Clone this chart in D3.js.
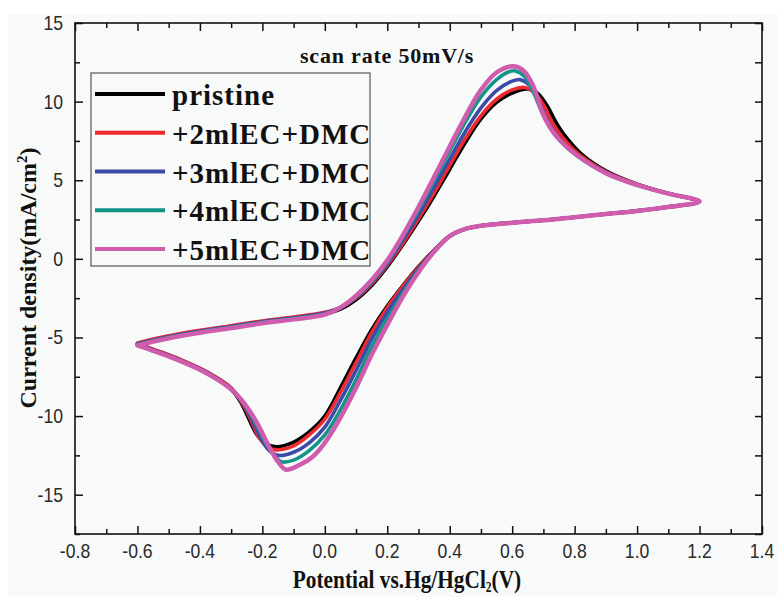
<!DOCTYPE html>
<html>
<head>
<meta charset="utf-8">
<script src="https://cdn.jsdelivr.net/npm/d3@7"></script>
<style>
body { margin: 0; background: #fff; }
svg { display: block; }
.tick-label { font-family: "Liberation Sans", Arial, sans-serif; font-size: 20px; fill: #2a2a2a; }
.serif-bold { font-family: "Liberation Serif", "Times New Roman", serif; font-weight: bold; fill: #111; }
</style>
</head>
<body>
<script>
// series names and colours
var names = ["pristine", "+2mlEC+DMC", "+3mlEC+DMC", "+4mlEC+DMC", "+5mlEC+DMC"]
var colors = ["#000000", "#ee2a2e", "#3c4aa8", "#149488", "#cf5cad"]

// CV loops: [potential (V), current density (mA/cm2)]
// forward scan -0.6 -> 1.2, then reverse 1.2 -> -0.6
var pristine = [[-0.6,-5.4],[-0.5,-5.0],[-0.4,-4.65],[-0.3,-4.35],[-0.2,-4.05],[-0.1,-3.8],[0.0,-3.5],[0.05,-3.2],[0.1,-2.6],[0.15,-1.7],[0.2,-0.5],[0.25,0.9],[0.3,2.4],[0.35,4.0],[0.4,5.7],[0.45,7.4],[0.5,8.9],[0.55,9.95],[0.6,10.55],[0.65,10.8],[0.68,10.55],[0.71,9.8],[0.74,8.7],[0.77,7.8],[0.82,6.7],[0.9,5.6],[1.0,4.75],[1.1,4.15],[1.2,3.65],
  [1.1,3.3],[1.0,3.05],[0.9,2.85],[0.8,2.65],[0.7,2.45],[0.6,2.3],[0.5,2.1],[0.45,1.9],[0.4,1.45],[0.35,0.55],[0.3,-0.5],[0.25,-1.7],[0.2,-3.0],[0.15,-4.5],[0.1,-6.3],[0.05,-8.2],[0.0,-10.0],[-0.05,-11.0],[-0.1,-11.65],[-0.155,-11.95],[-0.19,-11.75],[-0.22,-11.1],[-0.245,-10.1],[-0.27,-9.1],[-0.3,-8.3],[-0.35,-7.55],[-0.4,-7.0],[-0.45,-6.55],[-0.5,-6.15],[-0.6,-5.45]]
var ec2 = [[-0.6,-5.35],[-0.5,-4.9],[-0.4,-4.55],[-0.3,-4.25],[-0.2,-3.95],[-0.1,-3.7],[0.0,-3.4],[0.05,-3.1],[0.1,-2.5],[0.15,-1.6],[0.2,-0.4],[0.25,1.0],[0.3,2.55],[0.35,4.2],[0.4,5.95],[0.45,7.65],[0.5,9.1],[0.55,10.15],[0.6,10.75],[0.64,10.9],[0.67,10.6],[0.7,9.8],[0.73,8.6],[0.76,7.75],[0.81,6.7],[0.9,5.55],[1.0,4.75],[1.1,4.15],[1.2,3.65],
  [1.1,3.3],[1.0,3.05],[0.9,2.85],[0.8,2.65],[0.7,2.45],[0.6,2.3],[0.5,2.1],[0.45,1.9],[0.4,1.45],[0.35,0.55],[0.3,-0.55],[0.25,-1.75],[0.2,-3.1],[0.15,-4.7],[0.1,-6.6],[0.05,-8.5],[0.0,-10.2],[-0.05,-11.2],[-0.1,-11.9],[-0.155,-12.15],[-0.185,-11.95],[-0.215,-11.2],[-0.24,-10.1],[-0.27,-9.0],[-0.3,-8.2],[-0.35,-7.5],[-0.4,-6.95],[-0.45,-6.5],[-0.5,-6.1],[-0.6,-5.4]]
var ec3 = [[-0.6,-5.4],[-0.5,-4.95],[-0.4,-4.6],[-0.3,-4.3],[-0.2,-4.0],[-0.1,-3.75],[0.0,-3.45],[0.05,-3.1],[0.1,-2.45],[0.15,-1.5],[0.2,-0.3],[0.25,1.2],[0.3,2.8],[0.35,4.55],[0.4,6.35],[0.45,8.1],[0.5,9.6],[0.55,10.7],[0.6,11.3],[0.625,11.4],[0.655,11.05],[0.685,10.0],[0.715,8.7],[0.745,7.8],[0.8,6.7],[0.9,5.5],[1.0,4.72],[1.1,4.15],[1.2,3.65],
  [1.1,3.3],[1.0,3.05],[0.9,2.85],[0.8,2.65],[0.7,2.45],[0.6,2.3],[0.5,2.1],[0.45,1.9],[0.4,1.45],[0.35,0.5],[0.3,-0.65],[0.25,-1.95],[0.2,-3.4],[0.15,-5.1],[0.1,-7.1],[0.05,-9.0],[0.0,-10.7],[-0.05,-11.7],[-0.1,-12.3],[-0.15,-12.5],[-0.18,-12.15],[-0.21,-11.2],[-0.24,-9.95],[-0.27,-8.95],[-0.3,-8.25],[-0.35,-7.55],[-0.4,-7.0],[-0.45,-6.55],[-0.5,-6.15],[-0.6,-5.45]]
var ec4 = [[-0.6,-5.45],[-0.5,-5.0],[-0.4,-4.65],[-0.3,-4.35],[-0.2,-4.05],[-0.1,-3.8],[0.0,-3.5],[0.05,-3.1],[0.1,-2.4],[0.15,-1.45],[0.2,-0.2],[0.25,1.4],[0.3,3.1],[0.35,4.95],[0.4,6.85],[0.45,8.7],[0.5,10.3],[0.55,11.4],[0.59,11.9],[0.61,11.95],[0.64,11.6],[0.67,10.5],[0.7,9.1],[0.73,8.1],[0.78,7.0],[0.9,5.45],[1.0,4.7],[1.1,4.15],[1.2,3.65],
  [1.1,3.3],[1.0,3.05],[0.9,2.85],[0.8,2.65],[0.7,2.45],[0.6,2.3],[0.5,2.1],[0.45,1.9],[0.4,1.45],[0.35,0.5],[0.3,-0.75],[0.25,-2.2],[0.2,-3.8],[0.15,-5.6],[0.1,-7.7],[0.05,-9.6],[0.0,-11.2],[-0.05,-12.2],[-0.1,-12.8],[-0.14,-12.9],[-0.18,-12.0],[-0.21,-10.9],[-0.24,-9.8],[-0.27,-8.9],[-0.3,-8.3],[-0.35,-7.6],[-0.4,-7.05],[-0.45,-6.6],[-0.5,-6.2],[-0.6,-5.5]]
var ec5 = [[-0.6,-5.5],[-0.5,-5.05],[-0.4,-4.7],[-0.3,-4.4],[-0.2,-4.1],[-0.1,-3.85],[0.0,-3.55],[0.05,-3.1],[0.1,-2.35],[0.15,-1.35],[0.2,-0.1],[0.25,1.5],[0.3,3.3],[0.35,5.2],[0.4,7.15],[0.45,9.05],[0.5,10.75],[0.55,11.85],[0.6,12.25],[0.635,12.0],[0.665,11.1],[0.695,9.4],[0.72,8.4],[0.75,7.6],[0.8,6.7],[0.9,5.45],[1.0,4.7],[1.1,4.15],[1.2,3.65],
  [1.1,3.3],[1.0,3.05],[0.9,2.85],[0.8,2.65],[0.7,2.45],[0.6,2.3],[0.5,2.1],[0.45,1.9],[0.4,1.45],[0.35,0.45],[0.3,-0.85],[0.25,-2.4],[0.2,-4.2],[0.15,-6.1],[0.1,-8.2],[0.05,-10.1],[0.0,-11.7],[-0.04,-12.6],[-0.08,-13.1],[-0.125,-13.4],[-0.15,-12.9],[-0.18,-11.9],[-0.21,-10.7],[-0.24,-9.7],[-0.27,-8.9],[-0.3,-8.3],[-0.35,-7.6],[-0.4,-7.05],[-0.45,-6.6],[-0.5,-6.2],[-0.6,-5.5]]
var allSeries = [pristine, ec2, ec3, ec4, ec5]

// tick values
var xTicks = [-0.8, -0.6, -0.4, -0.2, 0.0, 0.2, 0.4, 0.6, 0.8, 1.0, 1.2, 1.4]
var yTicks = [-15, -10, -5, 0, 5, 10, 15]

var W = 777, H = 597
var pL = 75, pR = 762, pT = 23, pB = 534

var x = d3.scaleLinear().domain([-0.8, 1.4]).range([pL, pR])
var y = d3.scaleLinear().domain([-17.5, 15]).range([pB, pT])

var svg = d3.select("body").append("svg").attr("width", W).attr("height", H)
svg.append("rect").attr("width", W).attr("height", H).attr("fill", "#ffffff")
svg.append("rect").attr("x", 8).attr("y", 14).attr("width", W - 8).attr("height", H - 14).attr("fill", "#f8f9f9")

// curves
var line = d3.line().x(function(d) { return x(d[0]) }).y(function(d) { return y(d[1]) }).curve(d3.curveCatmullRom.alpha(0.5))
var plot = svg.append("g")
for(var i = 0; i < allSeries.length; i++)
{
    plot.append("path").attr("d", line(allSeries[i])).attr("fill", "none")
        .attr("stroke", colors[i]).attr("stroke-width", i == 4 ? 4.5 : 3.6)
        .attr("stroke-linejoin", "round").attr("stroke-linecap", "round")
}

// axes, ticks inward on all four sides
var xMinor = d3.range(-8, 15).map(function(v) { return v / 10 })
var yMinor = d3.range(-7, 7).map(function(v) { return v * 2.5 })
var isMajorX = function(v) { return Math.abs(Math.round(v * 10)) % 2 == 0 }
var isMajorY = function(v) { return v % 5 == 0 }

var gx = svg.append("g").attr("transform", "translate(0," + pB + ")").call(d3.axisBottom(x).tickValues(xMinor).tickSizeInner(0).tickSizeOuter(0).tickFormat(""))
gx.selectAll(".tick line").attr("y2", function(d) { return isMajorX(d) ? -8 : -5 })
var gxt = svg.append("g").attr("transform", "translate(0," + pT + ")").call(d3.axisTop(x).tickValues(xMinor).tickSizeInner(0).tickSizeOuter(0).tickFormat(""))
gxt.selectAll(".tick line").attr("y2", function(d) { return isMajorX(d) ? 8 : 5 })
var gy = svg.append("g").attr("transform", "translate(" + pL + ",0)").call(d3.axisLeft(y).tickValues(yMinor).tickSizeInner(0).tickSizeOuter(0).tickFormat(""))
gy.selectAll(".tick line").attr("x2", function(d) { return isMajorY(d) ? 8 : 5 })
var gyr = svg.append("g").attr("transform", "translate(" + pR + ",0)").call(d3.axisRight(y).tickValues(yMinor).tickSizeInner(0).tickSizeOuter(0).tickFormat(""))
gyr.selectAll(".tick line").attr("x2", -7)
svg.selectAll(".domain").remove()
svg.selectAll(".tick line").attr("stroke", "#111").attr("stroke-width", 1.5)
svg.append("rect").attr("x", pL).attr("y", pT).attr("width", pR - pL).attr("height", pB - pT)
    .attr("fill", "none").attr("stroke", "#111").attr("stroke-width", 1.6)

// tick labels (condensed like the original)
svg.append("g").selectAll("text").data(xTicks).enter().append("text").attr("class", "tick-label")
    .attr("transform", function(d) { return "translate(" + x(d) + ",558) scale(0.88,1)" }).attr("text-anchor", "middle")
    .text(function(d) { return d3.format(".1f")(d).replace("−", "-") })
svg.append("g").selectAll("text").data(yTicks).enter().append("text").attr("class", "tick-label")
    .attr("transform", function(d) { return "translate(63," + (y(d) + 7) + ") scale(0.88,1)" }).attr("text-anchor", "end")
    .text(function(d) { return String(d) })

// axis titles
var xt = svg.append("text").attr("class", "serif-bold").attr("transform", "translate(407,588) scale(0.82,1)").attr("text-anchor", "middle").style("font-size", "26px")
xt.append("tspan").text("Potential vs.Hg/HgCl")
xt.append("tspan").attr("dy", 4).style("font-size", "14px").text("2")
xt.append("tspan").attr("dy", -4).text("(V)")

var yt = svg.append("text").attr("class", "serif-bold").attr("transform", "translate(36,278) rotate(-90)").attr("text-anchor", "middle").style("font-size", "24px")
yt.append("tspan").text("Current density(mA/cm")
yt.append("tspan").attr("dy", -9).style("font-size", "15px").text("2")
yt.append("tspan").attr("dy", 9).text(")")

// annotation
svg.append("text").attr("class", "serif-bold").attr("x", 300).attr("y", 63).style("font-size", "22px").style("letter-spacing", "0.8px").text("scan rate 50mV/s")

// legend
var lg = svg.append("g")
lg.append("rect").attr("x", 91).attr("y", 73).attr("width", 279).attr("height", 193).attr("fill", "#f8f9f9").attr("stroke", "#555").attr("stroke-width", 1.2)
for(var i = 0; i < names.length; i++)
{
    var ly = 94 + i * 38.75
    lg.append("line").attr("x1", 95).attr("x2", 165).attr("y1", ly).attr("y2", ly).attr("stroke", colors[i]).attr("stroke-width", 4)
    lg.append("text").attr("class", "serif-bold").attr("x", 172).attr("y", ly + 11).style("font-size", "29px").style("letter-spacing", "1px").text(names[i])
}
</script>
</body>
</html>
